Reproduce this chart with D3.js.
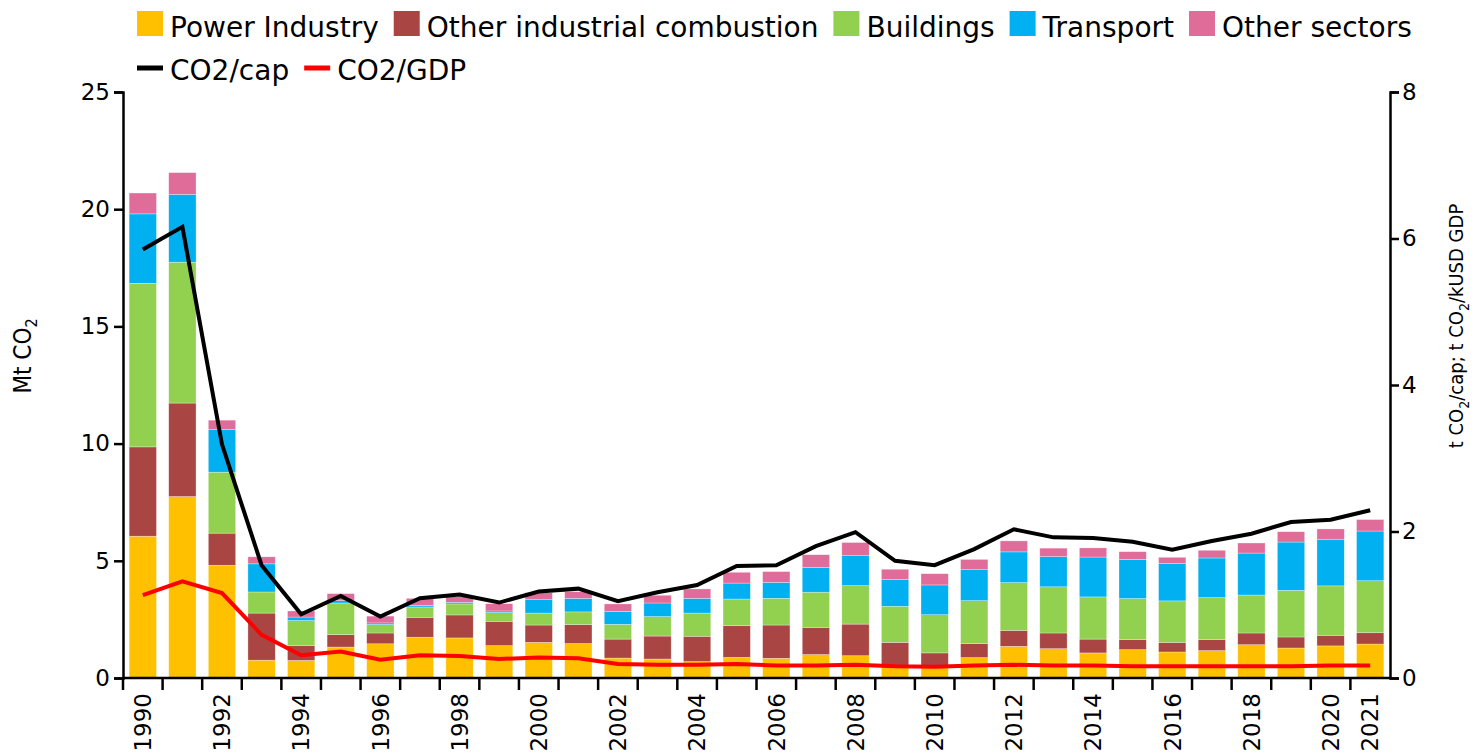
<!DOCTYPE html>
<html>
<head>
<meta charset="utf-8">
<script src="https://cdn.jsdelivr.net/npm/d3@7"></script>
<style>
  body { margin: 0; background: #fff; }
  svg { display: block; }
</style>
</head>
<body>
<svg id="chart" width="1479" height="754"></svg>
<script>
var years = [1990, 1991, 1992, 1993, 1994, 1995, 1996, 1997, 1998, 1999, 2000, 2001, 2002, 2003, 2004, 2005,
             2006, 2007, 2008, 2009, 2010, 2011, 2012, 2013, 2014, 2015, 2016, 2017, 2018, 2019, 2020, 2021];

// Mt CO2 per sector
var power     = [6.05, 7.74, 4.81, 0.76, 0.75, 1.32, 1.46, 1.74, 1.71, 1.38, 1.52, 1.47, 0.85, 0.81, 0.70, 0.88,
                 0.84, 1.00, 0.95, 0.53, 0.50, 0.87, 1.35, 1.25, 1.07, 1.21, 1.11, 1.17, 1.42, 1.28, 1.37, 1.45];
var industry  = [3.81, 3.99, 1.37, 2.01, 0.64, 0.53, 0.46, 0.85, 0.98, 1.04, 0.74, 0.81, 0.81, 0.98, 1.08, 1.35,
                 1.42, 1.16, 1.35, 0.99, 0.57, 0.60, 0.68, 0.67, 0.59, 0.43, 0.41, 0.47, 0.50, 0.47, 0.45, 0.48];
var buildings = [6.98, 6.01, 2.60, 0.90, 1.06, 1.35, 0.36, 0.44, 0.47, 0.37, 0.51, 0.54, 0.63, 0.83, 0.99, 1.14,
                 1.14, 1.50, 1.64, 1.54, 1.63, 1.83, 2.04, 1.97, 1.80, 1.75, 1.77, 1.79, 1.62, 1.99, 2.11, 2.22];
var transport = [2.96, 2.89, 1.82, 1.20, 0.15, 0.10, 0.07, 0.06, 0.07, 0.07, 0.59, 0.58, 0.55, 0.58, 0.63, 0.68,
                 0.68, 1.06, 1.28, 1.14, 1.27, 1.32, 1.31, 1.29, 1.70, 1.67, 1.59, 1.69, 1.79, 2.06, 1.99, 2.12];
var others    = [0.89, 0.93, 0.40, 0.30, 0.26, 0.30, 0.29, 0.31, 0.24, 0.31, 0.28, 0.28, 0.32, 0.33, 0.40, 0.46,
                 0.46, 0.54, 0.56, 0.44, 0.48, 0.44, 0.47, 0.36, 0.39, 0.33, 0.27, 0.33, 0.43, 0.44, 0.44, 0.49];

// t CO2/cap and t CO2/kUSD GDP (right axis)
var co2cap = [5.85, 6.16, 3.19, 1.54, 0.87, 1.12, 0.84, 1.09, 1.14, 1.03, 1.18, 1.22, 1.05, 1.17, 1.27, 1.53,
              1.54, 1.80, 1.99, 1.60, 1.54, 1.76, 2.03, 1.92, 1.91, 1.86, 1.75, 1.87, 1.97, 2.13, 2.16, 2.29];
var co2gdp = [1.13, 1.32, 1.16, 0.59, 0.31, 0.36, 0.25, 0.31, 0.30, 0.26, 0.28, 0.27, 0.19, 0.18, 0.18, 0.19,
              0.17, 0.17, 0.18, 0.16, 0.155, 0.17, 0.18, 0.17, 0.17, 0.16, 0.16, 0.16, 0.16, 0.16, 0.17, 0.17];

var sectorNames  = ["Power Industry", "Other industrial combustion", "Buildings", "Transport", "Other sectors"];
var sectorColors = ["#ffc000", "#a94643", "#92d050", "#00b0f0", "#e06c99"];
var lineNames  = ["CO2/cap", "CO2/GDP"];
var lineColors = ["#000000", "#ff0000"];
var leftTicks  = [0, 5, 10, 15, 20, 25];
var rightTicks = [0, 2, 4, 6, 8];

function drawChart() {
    var svg = d3.select("#chart");
    var x0 = 123, x1 = 1390, yTop = 92, yBot = 678;

    var x = d3.scaleBand().domain(years).range([x0, x1]).paddingInner(0.31).paddingOuter(0.155);
    var y = d3.scaleLinear().domain([0, 25]).range([yBot, yTop]);
    var y2 = d3.scaleLinear().domain([0, 8]).range([yBot, yTop]);

    var series = [power, industry, buildings, transport, others];
    var rows = years.map((yr, i) => {
        var r = { year: yr };
        series.forEach((s, k) => r["s" + k] = s[i]);
        return r;
    });
    var stack = d3.stack().keys(series.map((s, k) => "s" + k))(rows);

    svg.append("g").selectAll("g").data(stack).enter().append("g")
        .attr("fill", (d, k) => sectorColors[k])
        .selectAll("rect").data(d => d).enter().append("rect")
        .attr("x", d => x(d.data.year))
        .attr("width", x.bandwidth())
        .attr("y", d => y(d[1]))
        .attr("height", d => y(d[0]) - y(d[1]))
        .attr("stroke", "#fff").attr("stroke-opacity", 0.5).attr("stroke-width", 0.6);

    // lines on the right axis
    [co2cap, co2gdp].forEach((vals, k) => {
        svg.append("path")
            .datum(vals)
            .attr("fill", "none")
            .attr("stroke", lineColors[k])
            .attr("stroke-width", 4)
            .attr("d", d3.line().x((d, i) => x(years[i]) + x.bandwidth() / 2).y(d => y2(d)));
    });

    // x axis: ticks between the bars, labels on every other year
    var gx = svg.append("g").attr("transform", "translate(0," + yBot + ")");
    gx.append("path").attr("d", "M" + x0 + ",0H" + x1)
        .attr("stroke", "#000").attr("stroke-width", 2.5);
    var step = x.step();
    gx.selectAll("line").data(years).enter().append("line")
        .attr("x1", (d, i) => x0 + i * step).attr("x2", (d, i) => x0 + i * step)
        .attr("y1", 0).attr("y2", 12)
        .attr("stroke", "#000").attr("stroke-width", 2.5);
    gx.selectAll("text").data(years.filter(d => d % 2 === 0 || d === 2021)).enter().append("text")
        .attr("transform", d => "translate(" + (x(d) + x.bandwidth() / 2) + ",15) rotate(-90)")
        .attr("dy", "0.36em")
        .attr("text-anchor", "end")
        .attr("font-family", "DejaVu Sans, sans-serif")
        .attr("font-size", 23)
        .attr("fill", "#000")
        .text(d => d);

    var gl = svg.append("g").attr("transform", "translate(" + x0 + ",0)")
        .call(d3.axisLeft(y).tickValues(leftTicks).tickSize(9).tickPadding(4));
    gl.selectAll(".tick text").attr("font-size", 23).attr("font-family", "DejaVu Sans, sans-serif").attr("fill", "#000");
    gl.selectAll("path, line").attr("stroke", "#000").attr("stroke-width", 2.5);

    var gr = svg.append("g").attr("transform", "translate(" + x1 + ",0)")
        .call(d3.axisRight(y2).tickValues(rightTicks).tickSize(9).tickPadding(3));
    gr.selectAll(".tick text").attr("font-size", 23).attr("font-family", "DejaVu Sans, sans-serif").attr("fill", "#000");
    gr.selectAll("path, line").attr("stroke", "#000").attr("stroke-width", 2.5);

    // axis titles
    var titleFont = "DejaVu Sans Condensed, DejaVu Sans, sans-serif";
    var lt = svg.append("text")
        .attr("transform", "translate(31,356) rotate(-90)")
        .attr("text-anchor", "middle")
        .attr("font-family", titleFont)
        .attr("font-size", 24);
    lt.append("tspan").text("Mt CO");
    lt.append("tspan").attr("font-size", 16).attr("dy", 6).text("2");

    var rt = svg.append("text")
        .attr("transform", "translate(1463,326) rotate(-90)")
        .attr("text-anchor", "middle")
        .attr("font-family", titleFont)
        .attr("font-size", 20);
    rt.append("tspan").text("t CO");
    rt.append("tspan").attr("font-size", 14).attr("dy", 6).text("2");
    rt.append("tspan").attr("dy", -6).text("/cap; t CO");
    rt.append("tspan").attr("font-size", 14).attr("dy", 6).text("2");
    rt.append("tspan").attr("dy", -6).text("/kUSD GDP");

    // legend, flowed left to right
    function legendRow(names, yBase, drawKey) {
        var cx = 137;
        names.forEach((name, k) => {
            drawKey(cx, k);
            var t = svg.append("text")
                .attr("x", cx + 33).attr("y", yBase)
                .attr("font-family", "DejaVu Sans, sans-serif")
                .attr("font-size", 28)
                .attr("fill", "#000")
                .text(name);
            cx += 33 + t.node().getComputedTextLength() + 15;
        });
    }
    legendRow(sectorNames, 37, (cx, k) => {
        svg.append("rect").attr("x", cx).attr("y", 11).attr("width", 26).attr("height", 25)
            .attr("fill", sectorColors[k]);
    });
    legendRow(lineNames, 80, (cx, k) => {
        svg.append("line").attr("x1", cx).attr("x2", cx + 26).attr("y1", 68).attr("y2", 68)
            .attr("stroke", lineColors[k]).attr("stroke-width", 5);
    });
}

window.addEventListener("load", drawChart);
</script>
</body>
</html>
